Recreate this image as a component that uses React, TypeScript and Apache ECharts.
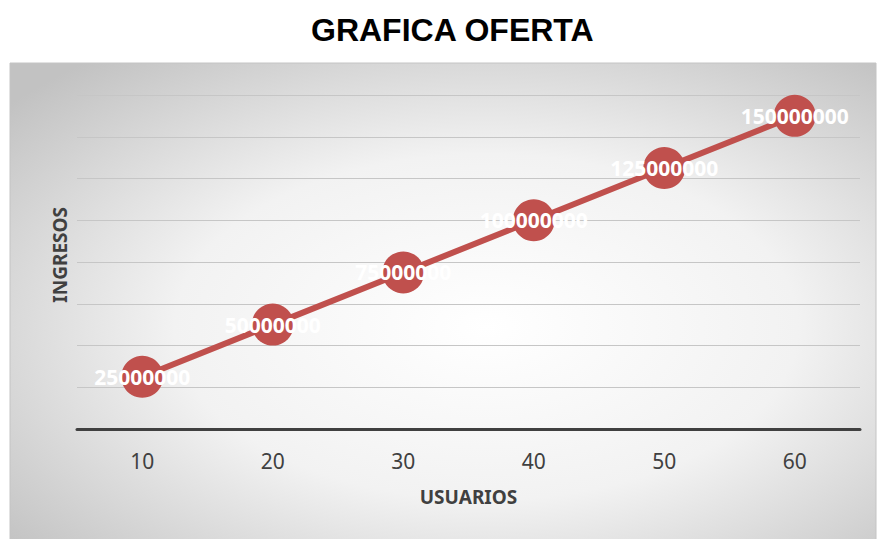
import React, { useEffect, useRef } from "react";
import * as echarts from "echarts";

const categories = ["10", "20", "30", "40", "50", "60"];
const ingresos = [25000000, 50000000, 75000000, 100000000, 125000000, 150000000];
const titleText = "GRAFICA OFERTA";
const xName = "USUARIOS";
const yName = "INGRESOS";

export default function App() {
  const ref = useRef<HTMLDivElement>(null);
  useEffect(() => {
    if (!ref.current) return;
    const chart = echarts.init(ref.current, undefined, { renderer: "svg" });
    chart.setOption({
      animation: false,
      backgroundColor: "#ffffff",
      title: {
        text: titleText,
        left: 306,
        top: 9,
        textStyle: {
          fontFamily: "Liberation Sans",
          fontWeight: "bold",
          fontSize: 32,
          color: "#000000",
        },
      },
      graphic: [
        {
          type: "rect",
          z: -10,
          silent: true,
          shape: { x: 10, y: 63, width: 866, height: 480 },
          style: {
            fill: new echarts.graphic.RadialGradient(0.55, 0.55, 0.72, [
              { offset: 0, color: "#ffffff" },
              { offset: 0.5, color: "#f2f2f2" },
              { offset: 1, color: "#c2c2c2" },
            ]),
            stroke: "#c4c4c4",
            lineWidth: 1,
          },
        },
        {
          type: "text",
          z: 10,
          left: 50,
          top: 207,
          rotation: Math.PI / 2,
          style: {
            text: yName,
            fontFamily: "Noto Sans",
            fontWeight: "bold",
            fontSize: 19,
            fill: "#404040",
          },
        },
      ],
      grid: { left: 77, right: 18, top: 95, bottom: 110, containLabel: false },
      xAxis: {
        type: "category",
        data: categories,
        name: xName,
        nameLocation: "middle",
        nameGap: 58,
        nameTextStyle: {
          fontFamily: "Noto Sans",
          fontWeight: "bold",
          fontSize: 19,
          color: "#404040",
        },
        axisLine: { lineStyle: { color: "#404040", width: 3 } },
        axisTick: { show: false },
        axisLabel: {
          margin: 21,
          fontFamily: "Noto Sans",
          fontSize: 21,
          color: "#404040",
        },
      },
      yAxis: {
        type: "value",
        min: 0,
        max: 160000000,
        interval: 20000000,
        axisLine: { show: false },
        axisTick: { show: false },
        axisLabel: { show: false },
        splitLine: { lineStyle: { color: "#c6c6c6", width: 1 } },
      },
      series: [
        {
          type: "line",
          data: ingresos,
          symbol: "circle",
          symbolSize: 42,
          lineStyle: { color: "#c0504d", width: 6 },
          itemStyle: { color: "#c0504d" },
          label: {
            show: true,
            position: "inside",
            color: "#ffffff",
            fontFamily: "Noto Sans",
            fontWeight: "bold",
            fontSize: 21,
          },
        },
      ],
    });
    return () => chart.dispose();
  }, []);
  return (
    <div
      ref={ref}
      style={{ position: "fixed", left: 0, top: 0, width: 878, height: 539 }}
    />
  );
}
